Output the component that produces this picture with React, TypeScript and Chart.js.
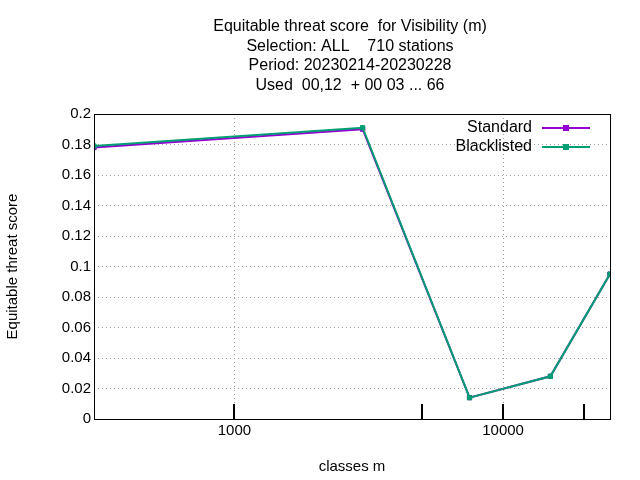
import { useEffect, useRef } from "react";
import Chart from "chart.js/auto";

const classes = [300, 3000, 7500, 15000, 25000];
const standard = [0.178, 0.19, 0.014, 0.028, 0.095];
const blacklisted = [0.179, 0.191, 0.014, 0.028, 0.095];
const titleLines = [
  "Equitable threat score  for Visibility (m)",
  "Selection: ALL    710 stations",
  "Period: 20230214-20230228",
  "Used  00,12  + 00 03 ... 66",
];
const xLabels = [1000, 10000];
const extraTicks = [5000, 20000];
const FONT = "'Liberation Sans', Arial, sans-serif";

const gnuplotLook = {
  id: "gnuplotLook",
  afterDraw(chart: any) {
    const { ctx, chartArea: a, scales } = chart;
    ctx.save();
    ctx.strokeStyle = "#000";
    ctx.lineWidth = 1;
    ctx.strokeRect(a.left + 0.5, a.top + 0.5, a.right - a.left, a.bottom - a.top);
    // tick marks
    ctx.lineWidth = 2;
    [...xLabels, ...extraTicks].forEach((v) => {
      const x = Math.round(scales.x.getPixelForValue(v));
      ctx.beginPath();
      ctx.moveTo(x, a.bottom);
      ctx.lineTo(x, a.bottom - 15);
      ctx.stroke();
    });
    // title
    ctx.fillStyle = "#000";
    ctx.font = `16px ${FONT}`;
    ctx.textAlign = "center";
    ctx.textBaseline = "middle";
    titleLines.forEach((t, i) => ctx.fillText(t, 350, 27 + i * 19.5));
    // legend
    ctx.textAlign = "right";
    chart.data.datasets.forEach((d: any, i: number) => {
      const y = 128 + i * 19;
      ctx.fillText(d.label, 532, y);
      ctx.strokeStyle = d.borderColor;
      ctx.lineWidth = 2;
      ctx.beginPath();
      ctx.moveTo(542, y);
      ctx.lineTo(590, y);
      ctx.stroke();
      ctx.fillStyle = d.borderColor;
      ctx.fillRect(563, y - 3, 6, 6);
      ctx.fillStyle = "#000";
    });
    ctx.restore();
  },
};

export default function App() {
  const ref = useRef<HTMLCanvasElement>(null);
  useEffect(() => {
    document.body.style.margin = "0";
    const chart = new Chart(ref.current as HTMLCanvasElement, {
      type: "line",
      data: {
        labels: classes,
        datasets: [
          { label: "Standard", order: 1, data: classes.map((x, i) => ({ x, y: standard[i] })), borderColor: "#9400d3", backgroundColor: "#9400d3" },
          { label: "Blacklisted", order: 0, data: classes.map((x, i) => ({ x, y: blacklisted[i] })), borderColor: "#009e73", backgroundColor: "#009e73" },
        ],
      },
      options: {
        animation: false,
        responsive: false,
        layout: { padding: { top: 114, right: 30, left: 0, bottom: 0 } },
        elements: {
          line: { borderWidth: 2, tension: 0 },
          point: { pointStyle: "rect", radius: 3, borderWidth: 1 },
        },
        plugins: { legend: { display: false }, title: { display: false }, tooltip: { enabled: false } },
        scales: {
          x: {
            type: "logarithmic",
            min: 300,
            max: 25000,
            afterBuildTicks: (s: any) => { s.ticks = xLabels.map((value) => ({ value })); },
            afterFit: (s: any) => { s.height = 61; },
            ticks: { color: "#000", font: { family: FONT, size: 15 }, maxRotation: 0, callback: (v: any) => String(v) },
            grid: { color: "#a0a0a0", drawTicks: false },
            border: { display: false, dash: [1, 3] },
            title: { display: true, text: "classes m", color: "#000", font: { family: FONT, size: 15 }, padding: { top: 12 } },
          },
          y: {
            min: 0,
            max: 0.2,
            afterFit: (s: any) => { s.width = 94; },
            ticks: { stepSize: 0.02, color: "#000", font: { family: FONT, size: 15 }, callback: (v: any) => String(Number(Number(v).toFixed(2))) },
            grid: { color: "#a0a0a0", drawTicks: false },
            border: { display: false, dash: [1, 3] },
            title: { display: true, text: "Equitable threat score", color: "#000", font: { family: FONT, size: 15 } },
          },
        },
      },
      plugins: [gnuplotLook],
    } as any);
    return () => chart.destroy();
  }, []);
  return <canvas ref={ref} width={640} height={480} style={{ display: "block" }} />;
}
